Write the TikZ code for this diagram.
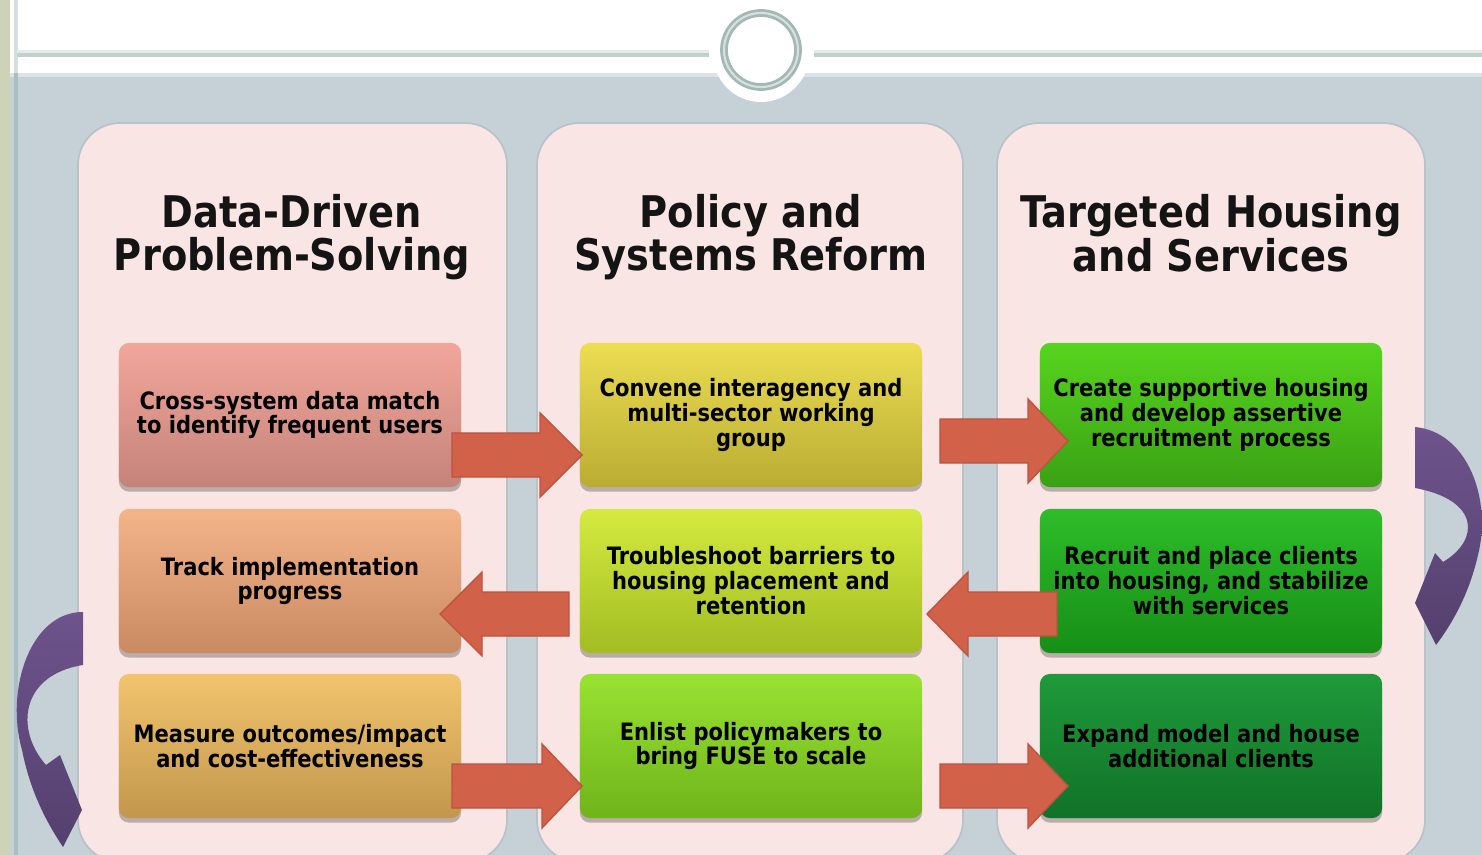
\documentclass[tikz,border=0pt]{standalone}
\usepackage{fontspec}
\newfontfamily\dvs[FakeStretch=0.88]{DejaVu Sans}
\usetikzlibrary{shadows}
\definecolor{olivestrip}{HTML}{CDD2B8}
\definecolor{vlinew}{HTML}{D3E0E2}
\definecolor{vlineg}{HTML}{A9BDC3}
\definecolor{hlight}{HTML}{E4ECEB}
\definecolor{hdark}{HTML}{C2D0CC}
\definecolor{bandgray}{HTML}{C6D1D7}
\definecolor{bandlight}{HTML}{DCE3E7}
\definecolor{ringcol}{HTML}{A3B8B4}
\definecolor{ringlight}{HTML}{D6E1DE}
\definecolor{panelcol}{HTML}{F9E6E4}
\definecolor{paneledge}{HTML}{B8C2C8}
\definecolor{arrowcol}{HTML}{D2614A}
\definecolor{arrowedge}{HTML}{BC5340}
\definecolor{purptop}{HTML}{6E538C}
\definecolor{purpbot}{HTML}{54406E}
\definecolor{titlecol}{HTML}{141414}
\definecolor{aT}{HTML}{F2A69B}\definecolor{aB}{HTML}{C4837A}
\definecolor{bT}{HTML}{F4B48A}\definecolor{bB}{HTML}{C88A62}
\definecolor{cT}{HTML}{F2C46E}\definecolor{cB}{HTML}{C2974C}
\definecolor{dT}{HTML}{ECDD52}\definecolor{dB}{HTML}{B9AC32}
\definecolor{eT}{HTML}{D4EA40}\definecolor{eB}{HTML}{A2BD22}
\definecolor{fT}{HTML}{98E232}\definecolor{fB}{HTML}{6FB41A}
\definecolor{gT}{HTML}{56D41E}\definecolor{gB}{HTML}{3AA114}
\definecolor{hT}{HTML}{2EBD2A}\definecolor{hB}{HTML}{168E16}
\definecolor{iT}{HTML}{1F9A3A}\definecolor{iB}{HTML}{107228}
\tikzset{
  paneltitle/.style={font=\dvs\bfseries\fontsize{12.4}{12.4}\selectfont, align=center, text=titlecol, inner sep=0pt},
  stepbox/.style={minimum width=3.42cm, minimum height=1.44cm, rounded corners=0.1cm, inner sep=0pt, align=center,
    font=\dvs\bfseries\fontsize{6.8}{7.1}\selectfont, text=black,
    drop shadow={shadow xshift=0pt, shadow yshift=-1.3pt, opacity=0.25, fill=black}},
  panel/.style={fill=panelcol, draw=paneledge, line width=0.5pt, rounded corners=0.42cm},
  blockarrow/.style={fill=arrowcol, draw=arrowedge, line width=0.4pt},
  curvearrow/.style={top color=purptop, bottom color=purpbot, draw=none}
}
\newcommand{\barrow}[4]{% start x, head base x, tip x, centre y
  \path[blockarrow] (#1,#4-22) -- (#2,#4-22) -- (#2,#4-42) -- (#3,#4) -- (#2,#4+42) -- (#2,#4+22) -- (#1,#4+22) -- cycle;}
\begin{document}
\begin{tikzpicture}[x=0.01cm,y=-0.01cm]
\useasboundingbox (0,0) rectangle (1482,855);
\fill[white] (0,0) rectangle (1482,855);
\fill[bandgray] (0,73) rectangle (1482,855);
\fill[bandlight] (0,73) rectangle (1482,77);
% left edge strip
\fill[olivestrip] (0,0) rectangle (10,855);
\fill[vlinew] (14,0) rectangle (18,73);
\fill[vlineg] (14,73) rectangle (18,855);
% horizontal rule
\fill[hlight] (17,50) rectangle (709,53);
\fill[hdark] (17,53) rectangle (709,57);
\fill[hlight] (814,50) rectangle (1482,53);
\fill[hdark] (814,53) rectangle (1482,57);
% ring
\fill[white] (761,54) circle[radius=0.48cm];
\draw[ringcol, line width=2.2pt] (761,50) circle[radius=0.37cm];
\draw[ringlight, line width=0.6pt] (761,50) circle[radius=0.37cm];
% panels
\path[panel] (78,123) rectangle (507,862);
\path[panel] (537,123) rectangle (963,862);
\path[panel] (997,123) rectangle (1425,862);
% titles
\node[paneltitle] (t1) at (292,237) {Data-Driven\\Problem-Solving};
\node[paneltitle] (t2) at (751,237) {Policy and\\Systems Reform};
\node[paneltitle] (t3) at (1211,233) {Targeted Housing\\and Services};
% boxes
\node[stepbox, top color=aT, bottom color=aB] (b11) at (290,415) {Cross-system data match\\to identify frequent users};
\node[stepbox, top color=bT, bottom color=bB] (b12) at (290,581) {Track implementation\\progress};
\node[stepbox, top color=cT, bottom color=cB] (b13) at (290,746) {Measure outcomes/impact\\and cost-effectiveness};
\node[stepbox, top color=dT, bottom color=dB] (b21) at (751,415) {Convene interagency and\\multi-sector working\\group};
\node[stepbox, top color=eT, bottom color=eB] (b22) at (751,581) {Troubleshoot barriers to\\housing placement and\\retention};
\node[stepbox, top color=fT, bottom color=fB] (b23) at (751,746) {Enlist policymakers to\\bring FUSE to scale};
\node[stepbox, top color=gT, bottom color=gB] (b31) at (1211,415) {Create supportive housing\\and develop assertive\\recruitment process};
\node[stepbox, top color=hT, bottom color=hB] (b32) at (1211,581) {Recruit and place clients\\into housing, and stabilize\\with services};
\node[stepbox, top color=iT, bottom color=iB] (b33) at (1211,746) {Expand model and house\\additional clients};
% block arrows
\barrow{452}{540}{582}{455}
\barrow{940}{1028}{1068}{441}
\barrow{569}{482}{440}{614}
\barrow{1057}{968}{927}{614}
\barrow{452}{542}{582}{786}
\barrow{940}{1028}{1068}{786}
% curved arrows
\path[curvearrow] (1415,427) .. controls (1468,432) and (1492,500) .. (1478,555)
  .. controls (1470,590) and (1455,620) .. (1436,645) -- (1415,603) -- (1435,553) -- (1443,562)
  .. controls (1480,540) and (1480,500) .. (1415,488) -- cycle;
\path[curvearrow] (83,612) .. controls (30,612) and (5,690) .. (22,750)
  .. controls (30,790) and (45,820) .. (63,847) -- (82,810) -- (60,755) -- (46,765)
  .. controls (15,730) and (20,675) .. (83,665) -- cycle;
\end{tikzpicture}
\end{document}
